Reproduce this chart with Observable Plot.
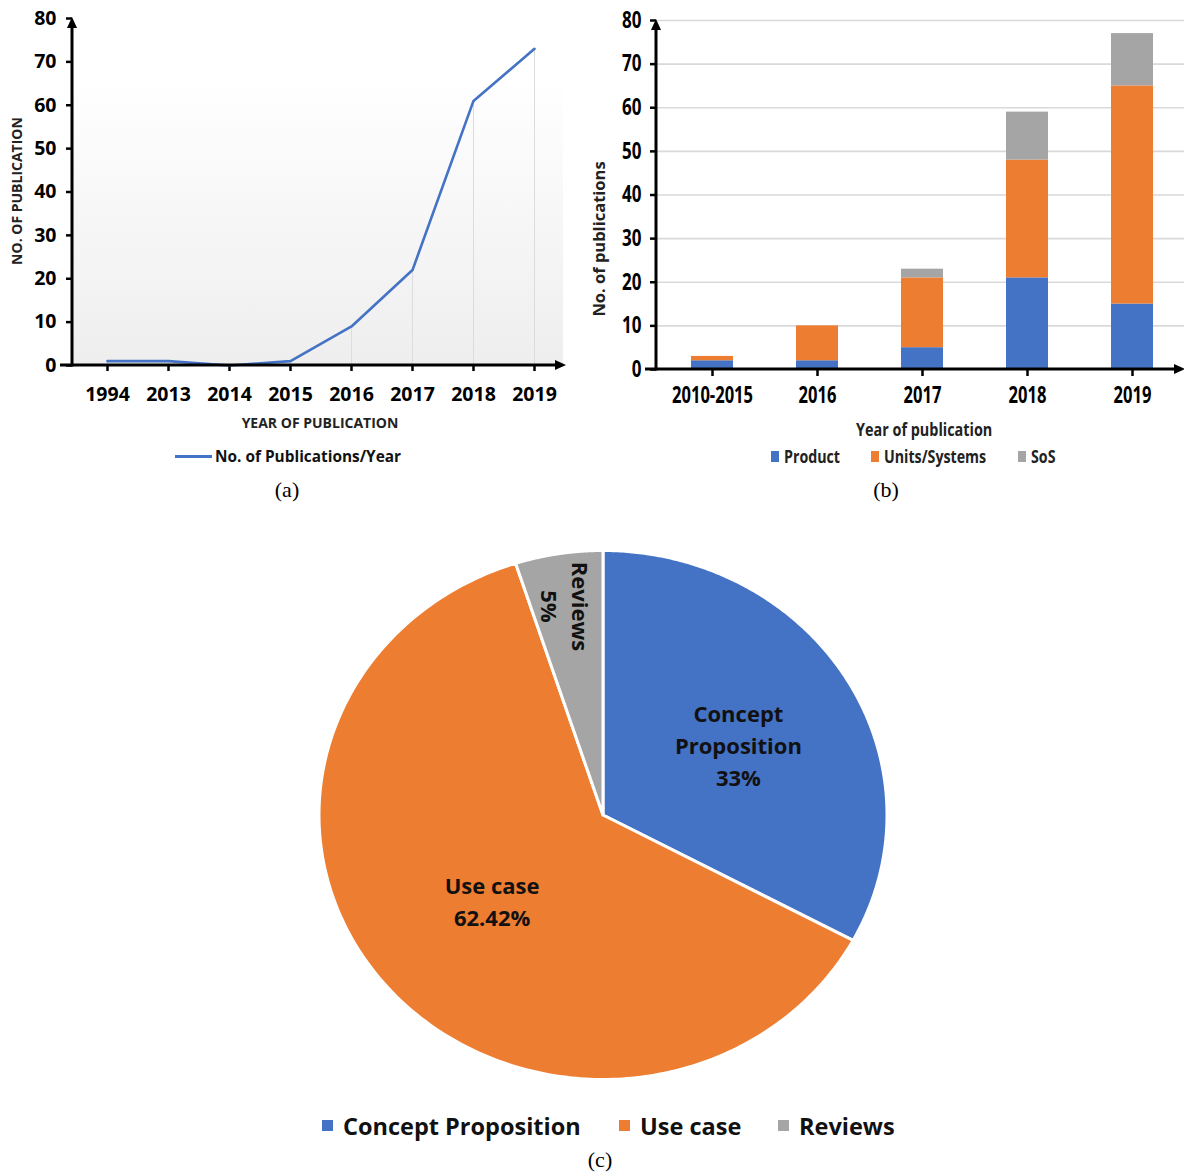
<!DOCTYPE html>
<html><head><meta charset="utf-8">
<script src="https://cdn.jsdelivr.net/npm/d3@7"></script>
<script src="https://cdn.jsdelivr.net/npm/@observablehq/plot@0.6"></script>
<style>
body{margin:0;background:#fff;width:1184px;height:1176px;position:relative;overflow:hidden;font-family:"Open Sans",sans-serif;color:#000;}
.abs{position:absolute;white-space:nowrap;}
.c{transform:translate(-50%,-50%);}
.cap{font-family:"Liberation Serif","DejaVu Serif",serif;font-size:22px;}
.narrow{font-family:"Open Sans",sans-serif;font-weight:bold;transform-origin:0 50%;}
</style></head><body>
<div id="pa" class="abs" style="left:0;top:0"></div>
<div id="pb" class="abs" style="left:590px;top:0"></div>
<div id="pc" class="abs" style="left:303px;top:535px"></div>
<script>
// ---------- data ----------
const yearsA = ["1994","2013","2014","2015","2016","2017","2018","2019"];
const pubsA = [1, 1, 0, 1, 9, 22, 61, 73];
const seriesA = "No. of Publications/Year";

const catsB = ["2010-2015","2016","2017","2018","2019"];
const seriesB = ["Product","Units/Systems","SoS"];
const productB = [2, 2, 5, 21, 15];
const unitsB = [1, 8, 16, 27, 50];
const sosB = [0, 0, 2, 11, 12];

const pieCats = ["Concept Proposition","Use case","Reviews"];
const pieValues = [33, 62.42, 5];
const pieLabels = ["33%","62.42%","5%"];

const yTicks = [0,10,20,30,40,50,60,70,80];

// ---------- styles ----------
const blue = "#4472C4", orange = "#ED7D31", gray = "#A5A5A5";
const colorsB = [blue, orange, gray];
const pieColors = [blue, orange, gray];
const FONT_A = "'Open Sans', sans-serif";

// axis lines with arrowheads
function axisDecor(xLeftExt, xTip) {
  return (index, scales, values, dims) => {
    const g = d3.create("svg:g");
    const y0 = scales.y(0), yTop = scales.y(80);
    const ax = dims.marginLeft;
    g.append("line").attr("x1", ax).attr("x2", ax).attr("y1", y0 + 1.5).attr("y2", yTop + 6)
      .attr("stroke", "#000").attr("stroke-width", 3);
    g.append("path").attr("d", `M${ax-5},${yTop+10}L${ax+5},${yTop+10}L${ax},${yTop-1}Z`).attr("fill", "#000");
    g.append("line").attr("x1", xLeftExt).attr("x2", xTip - 6).attr("y1", y0).attr("y2", y0)
      .attr("stroke", "#000").attr("stroke-width", 3);
    g.append("path").attr("d", `M${xTip-10},${y0-5}L${xTip-10},${y0+5}L${xTip+1},${y0}Z`).attr("fill", "#000");
    return g.node();
  };
}
// horizontally condense svg text (narrow font look)
function squeeze(svg, selector, s) {
  d3.select(svg).selectAll(selector).each(function() {
    const t = this.getAttribute("transform") || "";
    const x = +(this.getAttribute("x") || 0);
    this.setAttribute("transform", `${t} translate(${x},0) scale(${s},1) translate(${-x},0)`);
  });
}

// ---------- (a) ----------
const dataA = yearsA.map((y, i) => ({year: y, n: pubsA[i]}));
const bgA = (index, scales, values, dims) => {
  const g = d3.create("svg:g");
  const grad = g.append("defs").append("linearGradient").attr("id", "gradA")
    .attr("x1", 0).attr("x2", 0).attr("y1", 0).attr("y2", 1);
  grad.append("stop").attr("offset", "0%").attr("stop-color", "#ffffff");
  grad.append("stop").attr("offset", "100%").attr("stop-color", "#eeeeee");
  const y0 = scales.y(0);
  g.append("rect").attr("x", dims.marginLeft).attr("y", 78)
    .attr("width", dims.width - dims.marginRight - dims.marginLeft).attr("height", y0 - 78)
    .attr("fill", "url(#gradA)");
  return g.node();
};
const plotA = Plot.plot({
  width: 580, height: 440,
  marginLeft: 72, marginRight: 17, marginTop: 18, marginBottom: 75,
  style: {fontFamily: FONT_A, background: "transparent", overflow: "visible"},
  x: {type: "point", domain: yearsA, range: [105, 535], padding: 0, label: null},
  y: {domain: [0, 80], label: null},
  marks: [
    bgA,
    Plot.ruleX(dataA, {x: "year", y1: 0, y2: "n", stroke: "#dcdcdc", strokeWidth: 1}),
    Plot.axisY(yTicks, {label: null, tickSize: 6, tickPadding: 10, fontSize: 19.5, fontWeight: "bold", strokeWidth: 2.5}),
    Plot.axisX({label: null, tickSize: 6, tickPadding: 16, fontSize: 19.5, fontWeight: "bold", strokeWidth: 2.5}),
    Plot.line(dataA, {x: "year", y: "n", stroke: blue, strokeWidth: 2.6}),
    axisDecor(60, 565)
  ]
});
document.getElementById("pa").appendChild(plotA);

// ---------- (b) ----------
const dataB = [];
catsB.forEach((c, i) => {
  dataB.push({cat: c, s: seriesB[0], v: productB[i]});
  dataB.push({cat: c, s: seriesB[1], v: unitsB[i]});
  dataB.push({cat: c, s: seriesB[2], v: sosB[i]});
});
const plotB = Plot.plot({
  width: 594, height: 440,
  marginLeft: 66, marginRight: 0, marginTop: 20, marginBottom: 71,
  style: {fontFamily: FONT_A, background: "transparent", overflow: "visible"},
  x: {type: "band", domain: catsB, range: [68.25, 595.75], paddingInner: 0.6, paddingOuter: 0.3, label: null},
  y: {domain: [0, 80], label: null},
  color: {domain: seriesB, range: colorsB},
  marks: [
    Plot.gridY(yTicks.slice(1), {stroke: "#d9d9d9", strokeOpacity: 1, strokeWidth: 1.6}),
    Plot.barY(dataB, {x: "cat", y: "v", fill: "s"}),
    Plot.axisY(yTicks, {label: null, tickSize: 6, tickPadding: 9, fontSize: 23, fontWeight: "bold", strokeWidth: 2.5}),
    Plot.axisX({label: null, tickSize: 7, tickPadding: 10, fontSize: 23, fontWeight: "bold", strokeWidth: 2.5}),
    axisDecor(55, 594)
  ]
});
squeeze(plotB, 'g[aria-label="x-axis tick label"] text', 0.72);
squeeze(plotB, 'g[aria-label="y-axis tick label"] text', 0.74);
document.getElementById("pb").appendChild(plotB);

// ---------- (c) ----------
const arcs = d3.pie().sort(null).value(d => d)(pieValues);
const pieMark = (index, scales, values, dims) => {
  const {x, y} = scales;
  const g = d3.create("svg:g");
  arcs.forEach((a, i) => {
    const pts = [[x(0), y(0)]];
    const n = 240;
    for (let k = 0; k <= n; k++) {
      const t = a.startAngle + (a.endAngle - a.startAngle) * k / n;
      pts.push([x(Math.sin(t)), y(Math.cos(t))]);
    }
    g.append("path").attr("d", "M" + pts.map(p => p.join(",")).join("L") + "Z")
      .attr("fill", pieColors[i]).attr("stroke", "#fff").attr("stroke-width", 3).attr("stroke-linejoin", "round");
  });
  return g.node();
};
const labelsC = arcs.map((a, i) => {
  const mid = (a.startAngle + a.endAngle) / 2;
  const small = (a.endAngle - a.startAngle) < 0.5;
  const r = small ? 0.8 : 0.53;
  return {
    x: r * Math.sin(mid) + (i === 0 ? 0.02 : i === 1 ? 0.015 : -0.005), y: r * Math.cos(mid) + (i === 1 ? 0.02 : 0),
    text: (i === 0 ? pieCats[i].replace(" ", "\n") : pieCats[i]) + "\n" + pieLabels[i],
    rot: small ? 90 : 0
  };
});
const plotC = Plot.plot({
  width: 600, height: 560,
  margin: 0,
  style: {fontFamily: FONT_A, background: "transparent", overflow: "visible"},
  x: {domain: [-1, 1], range: [16, 584], axis: null},
  y: {domain: [-1, 1], range: [544.5, 15.5], axis: null},
  marks: [
    pieMark,
    Plot.text(labelsC, {x: "x", y: "y", text: "text", rotate: "rot", fontSize: 22, fontWeight: "bold", fill: "#111", lineHeight: 1.45})
  ]
});
document.getElementById("pc").appendChild(plotC);

// ---------- HTML titles / legends / captions ----------
function add(html, style, cls) {
  const d = document.createElement("div");
  d.className = "abs " + (cls || "");
  d.style.cssText = style;
  d.innerHTML = html;
  document.body.appendChild(d);
  return d;
}
// (a)
add("YEAR OF PUBLICATION", "left:320px;top:422px;font-size:14px;font-weight:bold;color:#222;", "c");
add("NO. OF PUBLICATION", "left:16px;top:191px;font-size:14px;font-weight:bold;color:#222;transform:translate(-50%,-50%) rotate(-90deg);");
add("", `left:175px;top:455px;width:37px;height:2.6px;background:${blue};`);
add(seriesA, "left:215px;top:456px;font-size:15.4px;font-weight:bold;transform:translateY(-50%);color:#111;");
add("(a)", "left:287px;top:490px;", "c cap");
// (b)
add("No. of publications", "left:598px;top:239px;font-size:16.5px;font-weight:bold;color:#222;transform:translate(-50%,-50%) rotate(-90deg);");
add("Year of publication", "left:856px;top:429px;font-size:18px;transform:translateY(-50%) scaleX(0.8);color:#222;", "narrow");
const legB = [[771, 784], [871, 884], [1018, 1031]];
seriesB.forEach((s, i) => {
  add("", `left:${legB[i][0]}px;top:451px;width:8px;height:11px;background:${colorsB[i]};`);
  add(s, `left:${legB[i][1]}px;top:456px;font-size:18px;transform:translateY(-50%) scaleX(0.79);color:#222;`, "narrow");
});
add("(b)", "left:886px;top:490px;", "c cap");
// (c)
const legC = [[322, 343], [619, 640], [778, 799]];
pieCats.forEach((s, i) => {
  add("", `left:${legC[i][0]}px;top:1120px;width:11px;height:11px;background:${pieColors[i]};`);
  add(s, `left:${legC[i][1]}px;top:1126px;font-size:23.5px;font-weight:bold;transform:translateY(-50%);color:#111;`);
});
add("(c)", "left:600px;top:1160px;", "c cap");
</script>
</body></html>
